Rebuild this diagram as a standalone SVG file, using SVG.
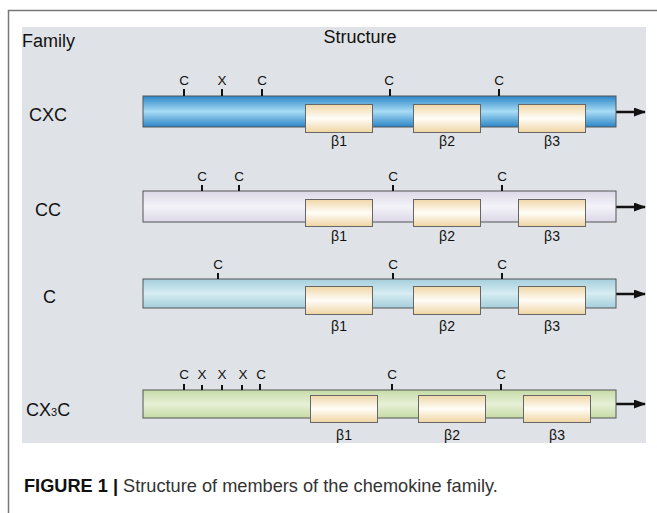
<svg xmlns="http://www.w3.org/2000/svg" width="657" height="513" viewBox="0 0 657 513">
<defs>
<linearGradient id="gBlue" x1="0" y1="0" x2="0" y2="1">
<stop offset="0" stop-color="#2b85c6"/><stop offset="0.5" stop-color="#a8dcf6"/><stop offset="1" stop-color="#2b85c6"/>
</linearGradient>
<linearGradient id="gLav" x1="0" y1="0" x2="0" y2="1">
<stop offset="0" stop-color="#dcd8e8"/><stop offset="0.5" stop-color="#f4f3f9"/><stop offset="1" stop-color="#dcd8e8"/>
</linearGradient>
<linearGradient id="gTeal" x1="0" y1="0" x2="0" y2="1">
<stop offset="0" stop-color="#a4cfdc"/><stop offset="0.5" stop-color="#d6ecf2"/><stop offset="1" stop-color="#a4cfdc"/>
</linearGradient>
<linearGradient id="gGreen" x1="0" y1="0" x2="0" y2="1">
<stop offset="0" stop-color="#c6dba6"/><stop offset="0.5" stop-color="#e6f0d6"/><stop offset="1" stop-color="#c6dba6"/>
</linearGradient>
<linearGradient id="gBox" x1="0" y1="0" x2="0" y2="1">
<stop offset="0" stop-color="#efd7a8"/><stop offset="0.5" stop-color="#fffdf8"/><stop offset="1" stop-color="#efd4a2"/>
</linearGradient>
<marker id="ah" markerWidth="12" markerHeight="9" refX="11" refY="4.5" orient="auto" markerUnits="userSpaceOnUse">
<path d="M0,0 L12,4.5 L0,9 Z" fill="#111"/>
</marker>
<style>
.t{font-family:"Liberation Sans",Arial,sans-serif;fill:#111}
.lab{font-size:18px}
.tk{font-size:13.5px;text-anchor:middle}
.b{font-size:14px;text-anchor:middle}
.bar{stroke:#555;stroke-width:1}
.box{fill:url(#gBox);stroke:#666;stroke-width:1}
.tick{stroke:#111;stroke-width:2}
.arr{stroke:#111;stroke-width:2.5;fill:none}
</style>
</defs>
<path d="M8.5,513 V10.5 H657" fill="none" stroke="#777" stroke-width="1.5"/>
<rect x="22" y="27" width="624" height="416" fill="#dfe3e7"/>
<text class="t lab" x="22" y="47" font-size="17.5">Family</text>
<text class="t lab" x="360" y="43" text-anchor="middle" font-size="17.5">Structure</text>
<text class="t" x="24" y="492" font-size="18.2"><tspan font-weight="bold">FIGURE 1 |</tspan> <tspan fill="#333">Structure of members of the chemokine family.</tspan></text>

<g id="connectors">
<line class="arr" x1="616" y1="112" x2="645" y2="112" marker-end="url(#ah)"/>
<line class="arr" x1="616" y1="207" x2="645" y2="207" marker-end="url(#ah)"/>
<line class="arr" x1="616" y1="294" x2="645" y2="294" marker-end="url(#ah)"/>
<line class="arr" x1="616" y1="404" x2="645" y2="404" marker-end="url(#ah)"/>
</g>

<g id="cxc">
<text class="t lab" x="29" y="121">CXC</text>
<rect class="bar" x="143" y="96" width="473" height="31" fill="url(#gBlue)"/>
<g class="tick"><line x1="184" y1="89" x2="184" y2="96"/><line x1="222" y1="89" x2="222" y2="96"/><line x1="262" y1="89" x2="262" y2="96"/><line x1="390" y1="89" x2="390" y2="96"/><line x1="499" y1="89" x2="499" y2="96"/></g>
<text class="t tk" x="184" y="85">C</text><text class="t tk" x="222" y="85">X</text><text class="t tk" x="262" y="85">C</text><text class="t tk" x="389" y="85">C</text><text class="t tk" x="499" y="85">C</text>
<rect class="box" x="305.5" y="104.5" width="67" height="28"/>
<rect class="box" x="413.5" y="104.5" width="67" height="28"/>
<rect class="box" x="518.5" y="104.5" width="67" height="28"/>
<text class="t b" x="339" y="146">β1</text><text class="t b" x="447" y="146">β2</text><text class="t b" x="552" y="146">β3</text>
</g>

<g id="cc">
<text class="t lab" x="35" y="216">CC</text>
<rect class="bar" x="143" y="191" width="473" height="31" fill="url(#gLav)"/>
<g class="tick"><line x1="202" y1="185" x2="202" y2="191"/><line x1="239" y1="185" x2="239" y2="191"/><line x1="393" y1="185" x2="393" y2="191"/><line x1="502" y1="185" x2="502" y2="191"/></g>
<text class="t tk" x="202" y="181">C</text><text class="t tk" x="239" y="181">C</text><text class="t tk" x="393" y="181">C</text><text class="t tk" x="502" y="181">C</text>
<rect class="box" x="305.5" y="199.5" width="67" height="27"/>
<rect class="box" x="413.5" y="199.5" width="67" height="27"/>
<rect class="box" x="518.5" y="199.5" width="67" height="27"/>
<text class="t b" x="339" y="241">β1</text><text class="t b" x="447" y="241">β2</text><text class="t b" x="552" y="241">β3</text>
</g>

<g id="c">
<text class="t lab" x="43" y="303">C</text>
<rect class="bar" x="143" y="279" width="473" height="29" fill="url(#gTeal)"/>
<g class="tick"><line x1="218" y1="273" x2="218" y2="279"/><line x1="393" y1="273" x2="393" y2="279"/><line x1="502" y1="273" x2="502" y2="279"/></g>
<text class="t tk" x="218" y="269">C</text><text class="t tk" x="393" y="269">C</text><text class="t tk" x="502" y="269">C</text>
<rect class="box" x="305.5" y="286.5" width="67" height="28"/>
<rect class="box" x="413.5" y="286.5" width="67" height="28"/>
<rect class="box" x="518.5" y="286.5" width="67" height="28"/>
<text class="t b" x="339" y="331">β1</text><text class="t b" x="447" y="331">β2</text><text class="t b" x="552" y="331">β3</text>
</g>

<g id="cx3c">
<text class="t lab" x="26" y="416">CX<tspan font-size="11">3</tspan>C</text>
<rect class="bar" x="143" y="390" width="473" height="28" fill="url(#gGreen)"/>
<g class="tick"><line x1="184" y1="384" x2="184" y2="390"/><line x1="202" y1="385" x2="202" y2="390"/><line x1="222" y1="385" x2="222" y2="390"/><line x1="242" y1="385" x2="242" y2="390"/><line x1="260" y1="384" x2="260" y2="390"/><line x1="392" y1="384" x2="392" y2="390"/><line x1="501" y1="384" x2="501" y2="390"/></g>
<text class="t tk" x="184" y="379">C</text><text class="t tk" x="202" y="379">X</text><text class="t tk" x="222" y="379">X</text><text class="t tk" x="243" y="379">X</text><text class="t tk" x="261" y="379">C</text><text class="t tk" x="392" y="379">C</text><text class="t tk" x="501" y="379">C</text>
<rect class="box" x="310.5" y="395.5" width="67" height="27"/>
<rect class="box" x="418.5" y="395.5" width="67" height="27"/>
<rect class="box" x="523.5" y="395.5" width="67" height="27"/>
<text class="t b" x="344" y="440">β1</text><text class="t b" x="452" y="440">β2</text><text class="t b" x="557" y="440">β3</text>
</g>
</svg>
